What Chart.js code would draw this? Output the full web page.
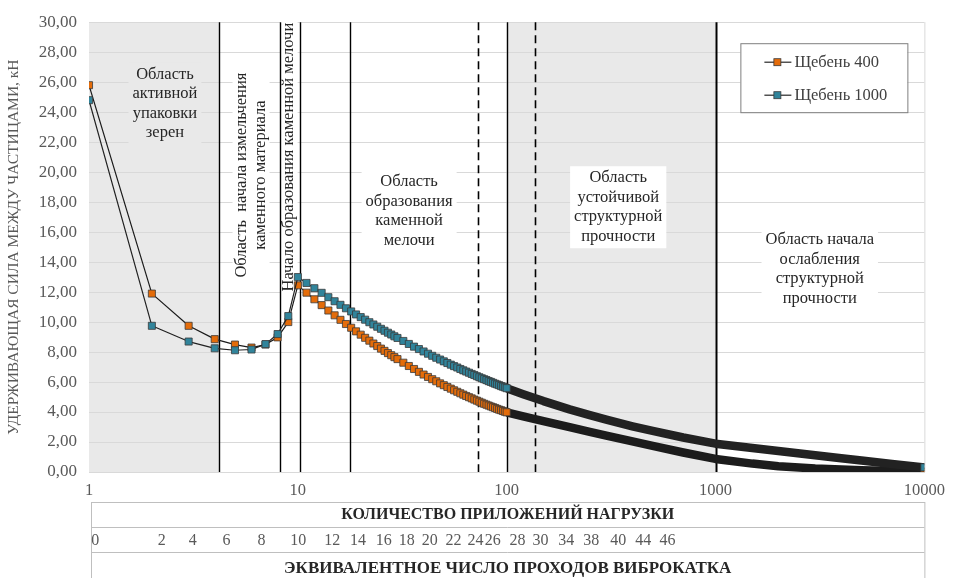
<!DOCTYPE html>
<html>
<head>
    <meta charset="utf-8">
    <title>Удерживающая сила между частицами</title>
    <script src="https://cdn.jsdelivr.net/npm/chart.js"></script>
    <style>
        body {
            margin: 0;
            padding: 0;
            background: white;
        }

        .wrap {
            width: 954px;
            height: 578px;
        }
    </style>
</head>

<body>
    <div class="wrap">
        <canvas id="forceChart" width="954" height="578"></canvas>
    </div>

    <script>
        // количество приложений нагрузки (ось X, логарифмическая)
        const loads = [1, 2, 3, 4, 5, 6, 7, 8, 9, 10, 11, 12, 13, 14, 15, 16, 17, 18, 19, 20,
            21, 22, 23, 24, 25, 26, 27, 28, 29, 30, 32, 34, 36, 38, 40, 42, 44, 46, 48, 50,
            52, 54, 56, 58, 60, 62, 64, 66, 68, 70, 72, 74, 76, 78, 80, 82, 84, 86, 88, 90,
            92, 94, 96, 98, 100, 120, 150, 200, 250, 300, 400, 500, 700, 1000, 1500, 2000,
            3000, 4000, 5000, 7000, 10000];

        // Щебень 400, кН
        const gravel400 = [25.8, 11.9, 9.75, 8.86, 8.5, 8.3, 8.5, 8.98, 10.0, 12.45,
            11.96, 11.52, 11.13, 10.77, 10.45, 10.15, 9.87, 9.62, 9.38, 9.16,
            8.95, 8.76, 8.57, 8.40, 8.23, 8.08, 7.93, 7.79, 7.66, 7.53,
            7.29, 7.07, 6.87, 6.68, 6.50, 6.34, 6.19, 6.05, 5.91, 5.79,
            5.67, 5.56, 5.45, 5.35, 5.25, 5.16, 5.07, 4.99, 4.91, 4.83,
            4.76, 4.69, 4.62, 4.55, 4.49, 4.43, 4.37, 4.32, 4.27, 4.21,
            4.16, 4.12, 4.07, 4.02, 3.98, 3.71, 3.39, 2.99, 2.68, 2.43,
            2.04, 1.74, 1.30, 0.87, 0.56, 0.39, 0.23, 0.16, 0.11, 0.06, 0.02];

        // Щебень 1000, кН
        const gravel1000 = [24.8, 9.75, 8.7, 8.25, 8.12, 8.17, 8.53, 9.2, 10.4, 13.0,
            12.61, 12.26, 11.95, 11.66, 11.39, 11.15, 10.92, 10.71, 10.51, 10.33,
            10.16, 9.99, 9.84, 9.69, 9.55, 9.42, 9.29, 9.17, 9.05, 8.94,
            8.74, 8.54, 8.36, 8.20, 8.04, 7.89, 7.75, 7.62, 7.50, 7.38,
            7.27, 7.16, 7.06, 6.97, 6.87, 6.78, 6.70, 6.62, 6.54, 6.47,
            6.39, 6.32, 6.25, 6.19, 6.13, 6.06, 6.01, 5.95, 5.89, 5.84,
            5.79, 5.73, 5.69, 5.64, 5.59, 5.19, 4.73, 4.18, 3.79, 3.49,
            3.05, 2.74, 2.30, 1.89, 1.60, 1.40, 1.12, 0.92, 0.77, 0.54, 0.31];

        const xTicks = [1, 10, 100, 1000, 10000];

        // эквивалентное число проходов виброкатка и соответствующее число нагрузок
        const passLabels = ['0', '2', '4', '6', '8', '10', '12', '14', '16', '18', '20',
            '22', '24', '26', '28', '30', '34', '38', '40', '44', '46'];
        const passLoads = [1.07, 2.23, 3.14, 4.56, 6.69, 10.05, 14.6, 19.4, 25.8, 33.2, 42.8,
            55.6, 71.0, 85.8, 112.6, 145, 193, 254, 342, 451, 589];

        // границы областей
        const solidBounds = [4.2, 8.2, 10.2, 17.7, 100];
        const dashedBounds = [72.7, 137];
        const mainBound = [1000];
        const shadedRanges = [[1, 4.2], [100, 1000]];

        const regionTexts = [
            { x: 2.31, y: 24.55, lines: ['Область', 'активной', 'упаковки', 'зерен'], bg: '#e9e9e9' },
            { x: 5.97, y: 19.8, lines: ['Область  начала измельчения', 'каменного материала'], rotate: true },
            { x: 9.06, y: 21.0, lines: ['Начало образования каменной мелочи'], rotate: true },
            { x: 34.1, y: 17.4, lines: ['Область', 'образования', 'каменной', 'мелочи'] },
            { x: 342, y: 17.66, lines: ['Область', 'устойчивой', 'структурной', 'прочности'] },
            { x: 3155, y: 13.53, lines: ['Область начала', 'ослабления', 'структурной', 'прочности'] }
        ];

        const serif = "'Liberation Serif', 'Times New Roman', serif";

        const overlayPlugin = {
            id: 'overlay',
            beforeDraw(chart) {
                const { ctx, chartArea: a, scales: { x } } = chart;
                ctx.save();
                ctx.fillStyle = '#ffffff';
                ctx.fillRect(0, 0, chart.width, chart.height);
                ctx.fillStyle = '#e9e9e9';
                shadedRanges.forEach(([from, to]) => {
                    const x0 = x.getPixelForValue(from);
                    const x1 = x.getPixelForValue(to);
                    ctx.fillRect(x0, a.top, x1 - x0, a.bottom - a.top);
                });
                // правая граница области построения
                ctx.strokeStyle = '#d9d9d9';
                ctx.lineWidth = 1;
                ctx.beginPath();
                ctx.moveTo(a.right + 0.5, a.top);
                ctx.lineTo(a.right + 0.5, a.bottom);
                ctx.stroke();
                ctx.restore();
            },
            beforeDatasetsDraw(chart) {
                const { ctx, chartArea: a, scales: { x, y } } = chart;
                ctx.save();

                // подписи областей
                ctx.font = '16.5px ' + serif;
                ctx.textAlign = 'center';
                ctx.textBaseline = 'middle';
                const lh = 19.5;
                regionTexts.forEach(t => {
                    const cx = x.getPixelForValue(t.x);
                    const cy = y.getPixelForValue(t.y);
                    const w = Math.max(...t.lines.map(l => ctx.measureText(l).width)) + 8;
                    const h = t.lines.length * lh + (t.rotate ? -2 : 4);
                    ctx.save();
                    ctx.translate(cx, cy);
                    if (t.rotate) ctx.rotate(-Math.PI / 2);
                    ctx.fillStyle = t.bg || '#ffffff';
                    ctx.fillRect(-w / 2, -h / 2, w, h);
                    ctx.fillStyle = '#262626';
                    t.lines.forEach((l, i) => {
                        ctx.fillText(l, 0, (i - (t.lines.length - 1) / 2) * lh);
                    });
                    ctx.restore();
                });

                // вертикальные линии границ
                const vline = (v, width, dash) => {
                    const px = Math.round(x.getPixelForValue(v)) + 0.5;
                    ctx.lineWidth = width;
                    ctx.setLineDash(dash);
                    ctx.strokeStyle = '#000000';
                    ctx.beginPath();
                    ctx.moveTo(px, a.top);
                    ctx.lineTo(px, a.bottom);
                    ctx.stroke();
                };
                solidBounds.forEach(v => vline(v, 1.4, []));
                dashedBounds.forEach(v => vline(v, 1.6, [8, 5]));
                mainBound.forEach(v => vline(v, 2, []));
                ctx.restore();
            },
            afterDatasetsDraw(chart) {
                const { ctx, chartArea: a } = chart;
                ctx.save();
                // легенда
                const lx = a.right - 184, ly = a.top + 21, lw = 167, lhgt = 69;
                ctx.fillStyle = '#ffffff';
                ctx.fillRect(lx, ly, lw, lhgt);
                ctx.strokeStyle = '#7f7f7f';
                ctx.lineWidth = 1;
                ctx.strokeRect(lx + 0.5, ly + 0.5, lw, lhgt);
                ctx.textAlign = 'left';
                ctx.textBaseline = 'middle';
                ctx.font = '16.5px ' + serif;
                chart.data.datasets.forEach((ds, i) => {
                    const yy = ly + 19 + i * 33;
                    ctx.strokeStyle = '#262626';
                    ctx.lineWidth = 1.2;
                    ctx.beginPath();
                    ctx.moveTo(lx + 24, yy);
                    ctx.lineTo(lx + 51, yy);
                    ctx.stroke();
                    ctx.fillStyle = ds.pointBackgroundColor;
                    ctx.fillRect(lx + 33.5, yy - 3.5, 7, 7);
                    ctx.strokeStyle = '#3a3a3a';
                    ctx.lineWidth = 0.8;
                    ctx.strokeRect(lx + 33.5, yy - 3.5, 7, 7);
                    ctx.fillStyle = '#404040';
                    ctx.fillText(ds.label, lx + 54, yy);
                });
                ctx.restore();
            },
            afterDraw(chart) {
                const { ctx, chartArea: a, scales: { x } } = chart;
                ctx.save();
                const left = a.left + 2, right = a.right;
                const rows = [502, 527, 552, 590];
                ctx.strokeStyle = '#bfbfbf';
                ctx.lineWidth = 1;
                ctx.strokeRect(left + 0.5, rows[0] + 0.5, right - left, rows[3] - rows[0]);
                [rows[1], rows[2]].forEach(r => {
                    ctx.beginPath();
                    ctx.moveTo(left, r + 0.5);
                    ctx.lineTo(right, r + 0.5);
                    ctx.stroke();
                });
                const mid = (left + right) / 2;
                ctx.textAlign = 'center';
                ctx.textBaseline = 'middle';
                ctx.fillStyle = '#262626';
                ctx.font = 'bold 16px ' + serif;
                ctx.fillText('КОЛИЧЕСТВО ПРИЛОЖЕНИЙ НАГРУЗКИ', mid, 515);
                ctx.font = 'bold 17px ' + serif;
                ctx.fillText('ЭКВИВАЛЕНТНОЕ ЧИСЛО ПРОХОДОВ ВИБРОКАТКА', mid, 569);
                ctx.font = '16px ' + serif;
                ctx.fillStyle = '#595959';
                passLabels.forEach((l, i) => {
                    ctx.fillText(l, x.getPixelForValue(passLoads[i]), 541);
                });
                ctx.restore();
            }
        };

        const pointRadius = c => (c.raw && (c.raw.x <= 100 || c.raw.x === 10000)) ? 5 : 0;
        const bandWidth = c => c.p0.parsed.x >= 100 ? 8.5 : 1.2;

        new Chart(document.getElementById('forceChart'), {
            type: 'line',
            data: {
                datasets: [{
                    label: 'Щебень 400',
                    data: loads.map((v, i) => ({ x: v, y: gravel400[i] })),
                    borderColor: '#1c1c1c',
                    borderWidth: 1.2,
                    borderJoinStyle: 'round',
                    pointStyle: 'rect',
                    pointRadius: pointRadius,
                    pointBackgroundColor: '#e46c0a',
                    pointBorderColor: '#3a3a3a',
                    pointBorderWidth: 0.8,
                    segment: { borderWidth: bandWidth },
                    order: 1
                }, {
                    label: 'Щебень 1000',
                    data: loads.map((v, i) => ({ x: v, y: gravel1000[i] })),
                    borderColor: '#222222',
                    borderWidth: 1.2,
                    borderJoinStyle: 'round',
                    pointStyle: 'rect',
                    pointRadius: pointRadius,
                    pointBackgroundColor: '#31849b',
                    pointBorderColor: '#3a3a3a',
                    pointBorderWidth: 0.8,
                    segment: { borderWidth: bandWidth },
                    order: 0
                }]
            },
            options: {
                responsive: false,
                animation: false,
                events: [],
                devicePixelRatio: 1,
                layout: {
                    padding: { top: 17, right: 27, left: 0, bottom: 0 }
                },
                plugins: {
                    legend: { display: false },
                    tooltip: { enabled: false }
                },
                scales: {
                    x: {
                        type: 'logarithmic',
                        min: 1,
                        max: 10000,
                        grid: { display: false, drawTicks: false },
                        border: { display: true, color: '#d9d9d9' },
                        ticks: {
                            autoSkip: false,
                            maxRotation: 0,
                            padding: 9,
                            color: '#595959',
                            font: { family: serif, size: 16.5 },
                            callback: v => String(v)
                        },
                        afterBuildTicks: s => { s.ticks = xTicks.map(v => ({ value: v })); },
                        afterFit: s => { s.height = 106; }
                    },
                    y: {
                        min: 0,
                        max: 30,
                        grid: { color: '#d9d9d9', drawTicks: false },
                        border: { display: false },
                        ticks: {
                            stepSize: 2,
                            padding: 12,
                            color: '#595959',
                            font: { family: serif, size: 17 },
                            callback: v => v.toFixed(2).replace('.', ',')
                        },
                        title: {
                            display: true,
                            text: 'УДЕРЖИВАЮЩАЯ СИЛА МЕЖДУ ЧАСТИЦАМИ, кН',
                            color: '#595959',
                            font: { family: serif, size: 15.5 },
                            padding: { top: 5, bottom: 0 }
                        },
                        afterFit: s => { s.width = 89; }
                    }
                }
            },
            plugins: [overlayPlugin]
        });
    </script>
</body>

</html>
